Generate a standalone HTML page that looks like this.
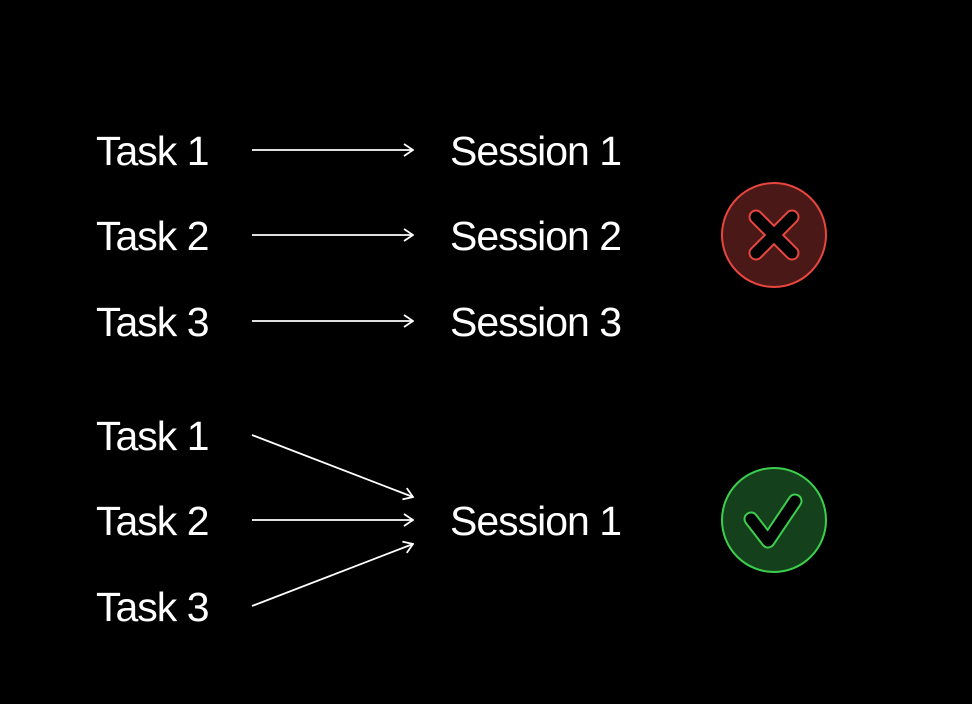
<!DOCTYPE html>
<html><head><meta charset="utf-8"><style>
html,body{margin:0;padding:0;background:#000;width:972px;height:704px;overflow:hidden}
svg text{font-family:"Liberation Sans",sans-serif;font-size:41px;fill:#fff;letter-spacing:-1px}
</style></head><body>
<svg width="972" height="704" viewBox="0 0 972 704">
<defs>
<marker id="ah" viewBox="0 0 12 14" refX="11" refY="7" markerWidth="12" markerHeight="14" markerUnits="userSpaceOnUse" orient="auto">
<path d="M2,1 L11,7 L2,13" fill="none" stroke="#fff" stroke-width="1.8"/>
</marker>
</defs>
<g>
<text x="96" y="165">Task 1</text>
<text x="96" y="250">Task 2</text>
<text x="96" y="336">Task 3</text>
<line x1="252" y1="150" x2="413" y2="150" stroke="#fff" stroke-width="1.8" marker-end="url(#ah)"/>
<line x1="252" y1="235" x2="413" y2="235" stroke="#fff" stroke-width="1.8" marker-end="url(#ah)"/>
<line x1="252" y1="321" x2="413" y2="321" stroke="#fff" stroke-width="1.8" marker-end="url(#ah)"/>
<text x="450" y="165">Session 1</text>
<text x="450" y="250">Session 2</text>
<text x="450" y="336">Session 3</text>
<g>
<circle cx="774" cy="235" r="52" fill="#4a1816" stroke="#e8463f" stroke-width="2"/>
<g stroke-linecap="round">
<line x1="756" y1="217" x2="792" y2="253" stroke="#e8463f" stroke-width="15"/>
<line x1="792" y1="217" x2="756" y2="253" stroke="#e8463f" stroke-width="15"/>
<line x1="756" y1="217" x2="792" y2="253" stroke="#000" stroke-width="11"/>
<line x1="792" y1="217" x2="756" y2="253" stroke="#000" stroke-width="11"/>
</g>
</g>
</g>
<g>
<text x="96" y="450">Task 1</text>
<text x="96" y="535">Task 2</text>
<text x="96" y="621">Task 3</text>
<line x1="252" y1="435" x2="413" y2="497" stroke="#fff" stroke-width="1.8" marker-end="url(#ah)"/>
<line x1="252" y1="520" x2="413" y2="520" stroke="#fff" stroke-width="1.8" marker-end="url(#ah)"/>
<line x1="252" y1="606" x2="413" y2="544" stroke="#fff" stroke-width="1.8" marker-end="url(#ah)"/>
<text x="450" y="535">Session 1</text>
<g>
<circle cx="774" cy="520" r="52" fill="#14401c" stroke="#3ccf4e" stroke-width="2"/>
<g fill="none" stroke-linecap="round" stroke-linejoin="round">
<polyline points="751,519 768,541 795,501" stroke="#3ccf4e" stroke-width="15"/>
<polyline points="751,519 768,541 795,501" stroke="#000" stroke-width="11"/>
</g>
</g>
</g>
</svg>
</body></html>
